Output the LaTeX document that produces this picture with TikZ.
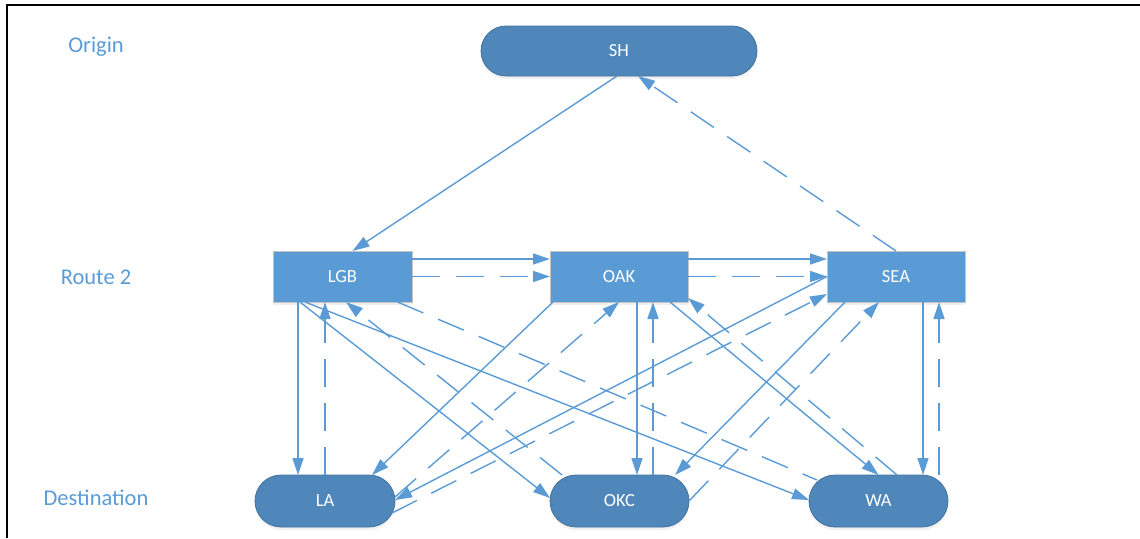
\documentclass[tikz,border=0pt]{standalone}
\usepackage{fontspec}
\setmainfont{Carlito}
\usetikzlibrary{arrows.meta,shapes.misc,shadows}
\definecolor{lineblue}{HTML}{5B9BD5}
\definecolor{pillfill}{HTML}{4F87BB}
\definecolor{pillborder}{HTML}{41719C}
\definecolor{rectfill}{HTML}{5B9BD5}
\definecolor{rectborder}{HTML}{C4C4C4}
\begin{document}
\begin{tikzpicture}[x=1pt,y=-1pt,
  pill/.style={rounded rectangle, draw=pillborder, line width=0.8pt, fill=pillfill,
    text=white, inner sep=0pt, outer sep=0pt, minimum width=140pt, minimum height=52pt,
    font=\fontsize{18.5}{22}\selectfont,
    drop shadow={opacity=0.12, shadow xshift=0pt, shadow yshift=-3pt}},
  box/.style={rectangle, draw=rectborder, line width=1pt, fill=rectfill,
    text=white, inner sep=0pt, outer sep=0pt, minimum width=139pt, minimum height=51pt,
    font=\fontsize{18.5}{22}\selectfont,
    drop shadow={opacity=0.12, shadow xshift=0pt, shadow yshift=-3pt}},
  lbl/.style={text=lineblue, inner sep=0pt, font=\fontsize{22.5}{26}\selectfont},
  sol/.style={draw=lineblue, line width=1.4pt, -{Triangle[length=17pt,width=11pt]}},
  dsh/.style={sol, dash pattern=on 28pt off 16pt},
  dshn/.style={draw=lineblue, line width=1.4pt, dash pattern=on 28pt off 16pt}
]
\useasboundingbox (0,0) rectangle (1140,538);
\draw[line width=2pt] (7,538) -- (7,5) -- (1140,5);

\node[lbl] (lorigin) at (96,47) {Origin};
\node[lbl] (lroute) at (96,277) {Route 2};
\node[lbl] (ldest) at (96,498) {Destination};

\node[pill, minimum width=276pt, minimum height=50pt] (SH) at (619,51) {SH};
\node[box] (LGB) at (342.5,276.5) {LGB};
\node[box, minimum width=138pt] (OAK) at (619,276.5) {OAK};
\node[box, minimum width=138pt] (SEA) at (896,276.5) {SEA};
\node[pill] (LA) at (325,501) {LA};
\node[pill, minimum width=139pt] (OKC) at (619.5,501) {OKC};
\node[pill, minimum width=139pt] (WA) at (878.5,501) {WA};

% origin
\draw[sol] ([xshift=-2pt]SH.south) -- ([xshift=10pt]LGB.north);
\draw[dsh] (SEA.north) -- ([xshift=19pt]SH.south);
% route horizontal
\draw[sol] ([yshift=17.5pt]LGB.east) -- ([yshift=17.5pt]OAK.west);
\draw[dsh] (LGB.east) -- (OAK.west);
\draw[sol] ([yshift=17.5pt]OAK.east) -- ([yshift=17.5pt]SEA.west);
\draw[dsh] (OAK.east) -- (SEA.west);
% LGB
\draw[sol] ([xshift=-44.5pt]LGB.south) -- ([xshift=-27pt]LA.north);
\draw[dsh] (LA.north) -- ([xshift=-17.5pt]LGB.south);
\draw[sol] ([xshift=-42.5pt]LGB.south) -- ([yshift=3pt]OKC.west);
\draw[dsh] ([xshift=-57.5pt]OKC.north) -- ([xshift=3.5pt]LGB.south);
\draw[sol] ([xshift=-37.5pt]LGB.south) -- ([yshift=1pt]WA.west);
\draw[dshn] ([xshift=55pt]LGB.south) -- ([xshift=-61.5pt,yshift=-5pt]WA.north);
% OAK
\draw[sol] ([xshift=-66pt]OAK.south) -- ([xshift=47pt]LA.north);
\draw[dsh] ([yshift=4pt]LA.east) -- (OAK.south);
\draw[sol] ([xshift=18pt]OAK.south) -- ([xshift=17.5pt]OKC.north);
\draw[dsh] ([xshift=33.5pt]OKC.north) -- ([xshift=34pt]OAK.south);
\draw[sol] ([xshift=51pt]OAK.south) -- (WA.north);
\draw[dsh] ([xshift=18.5pt]WA.north) -- ([yshift=4pt]OAK.south east);
% SEA
\draw[sol] (SEA.west) -- ([yshift=1pt]LA.east);
\draw[dsh] ([xshift=-3pt,yshift=-12pt]LA.east) -- ([yshift=8pt]SEA.south west);
\draw[sol] ([xshift=-51pt]SEA.south) -- ([xshift=55.5pt]OKC.north);
\draw[dsh] (OKC.east) -- ([xshift=-17pt]SEA.south);
\draw[sol] ([xshift=27pt]SEA.south) -- ([xshift=44.5pt]WA.north);
\draw[dsh] ([xshift=60.5pt]WA.north) -- ([xshift=43pt]SEA.south);
\end{tikzpicture}
\end{document}
